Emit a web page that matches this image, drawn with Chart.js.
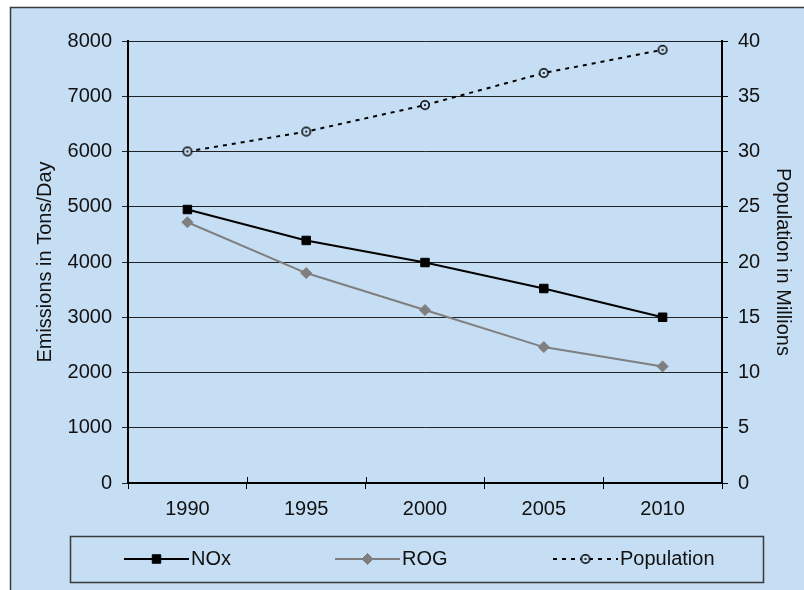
<!DOCTYPE html>
<html>
<head>
<meta charset="utf-8">
<script src="https://cdn.jsdelivr.net/npm/chart.js@4/dist/chart.umd.min.js"></script>
<style>
  html, body { margin: 0; padding: 0; background: #ffffff; }
  #wrap { width: 804px; height: 590px; position: relative; }
</style>
</head>
<body>
<div id="wrap"><canvas id="c" width="804" height="590"></canvas></div>
<script>
// Emissions (tons/day) and population (millions), 1990-2010
const years = ['1990', '1995', '2000', '2005', '2010'];
const noxTons = [4950, 4390, 3990, 3520, 3000];
const rogTons = [4720, 3800, 3130, 2460, 2110];
const populationMillions = [30.0, 31.8, 34.2, 37.1, 39.2];

const emissionTicks = { min: 0, max: 8000, step: 1000 };
const populationTicks = { min: 0, max: 40, step: 5 };

const PANEL = '#c6def3';
const INK = '#111111';
const FONT = { family: '"Liberation Sans", Arial, sans-serif', size: 20 };

// open circle with a centre dot, used for the population markers
function circleDotMarker() {
  const cv = document.createElement('canvas');
  cv.width = 12; cv.height = 12;
  const g = cv.getContext('2d');
  g.beginPath();
  g.arc(6, 6, 4.2, 0, Math.PI * 2);
  g.fillStyle = PANEL;
  g.fill();
  g.lineWidth = 1.5;
  g.strokeStyle = '#000';
  g.stroke();
  g.beginPath();
  g.arc(6, 6, 1.1, 0, Math.PI * 2);
  g.fillStyle = '#000';
  g.fill();
  return cv;
}
const popMarker = circleDotMarker();

// panel background and frame
const panelPlugin = {
  id: 'panel',
  beforeDraw(chart) {
    const ctx = chart.ctx;
    ctx.save();
    ctx.fillStyle = '#ffffff';
    ctx.fillRect(0, 0, chart.width, chart.height);
    ctx.fillStyle = PANEL;
    ctx.fillRect(10, 7, chart.width, chart.height);
    ctx.strokeStyle = '#3a3a3a';
    ctx.lineWidth = 1.5;
    ctx.strokeRect(10.5, 7.5, chart.width + 10, chart.height + 10);
    ctx.restore();
  }
};

// category tick marks that cross the bottom axis
const crossTicksPlugin = {
  id: 'crossTicks',
  afterDatasetsDraw(chart) {
    const xs = chart.scales.x;
    const ctx = chart.ctx;
    const n = xs.ticks.length;
    const pos = [xs.left];
    for (let i = 1; i < n; i++) {
      pos.push((xs.getPixelForValue(i - 1) + xs.getPixelForValue(i)) / 2);
    }
    pos.push(xs.right);
    ctx.save();
    ctx.strokeStyle = '#000';
    ctx.lineWidth = 1;
    pos.forEach(p => {
      const px = Math.round(p) + 0.5;
      ctx.beginPath();
      ctx.moveTo(px, xs.top - 6);
      ctx.lineTo(px, xs.top);
      ctx.stroke();
    });
    ctx.restore();
  }
};

// boxed legend under the axis, line + marker samples
const legendBoxPlugin = {
  id: 'legendBox',
  afterDraw(chart) {
    const ctx = chart.ctx;
    const box = { x: 70, y: 536, w: 693, h: 46 };
    const cy = box.y + box.h / 2;
    ctx.save();
    ctx.strokeStyle = '#3a3a3a';
    ctx.lineWidth = 1.5;
    ctx.strokeRect(box.x + 0.5, box.y + 0.5, box.w, box.h);

    const slots = [124, 335, 553];
    chart.data.datasets.forEach((ds, i) => {
      const x0 = slots[i], x1 = x0 + 65, xm = (x0 + x1) / 2;
      ctx.save();
      ctx.strokeStyle = ds.borderColor;
      ctx.lineWidth = ds.borderWidth;
      ctx.setLineDash(ds.borderDash || []);
      ctx.beginPath();
      ctx.moveTo(x0, cy);
      ctx.lineTo(x1, cy);
      ctx.stroke();
      ctx.setLineDash([]);
      if (ds.pointStyle instanceof HTMLCanvasElement) {
        ctx.drawImage(ds.pointStyle, xm - ds.pointStyle.width / 2, cy - ds.pointStyle.height / 2);
      } else {
        ctx.fillStyle = ds.pointBackgroundColor;
        ctx.strokeStyle = ds.pointBorderColor;
        ctx.lineWidth = ds.pointBorderWidth;
        Chart.helpers.drawPoint(ctx, {
          pointStyle: ds.pointStyle, radius: ds.pointRadius, borderWidth: ds.pointBorderWidth, rotation: 0
        }, xm, cy);
      }
      ctx.restore();
      ctx.fillStyle = INK;
      ctx.font = FONT.size + 'px ' + FONT.family;
      ctx.textBaseline = 'middle';
      ctx.textAlign = 'left';
      ctx.fillText(ds.label, x1 + 2, cy);
    });
    ctx.restore();
  }
};

const plainNumber = v => String(v);

new Chart(document.getElementById('c'), {
  type: 'line',
  data: {
    labels: years,
    datasets: [
      {
        label: 'NOx',
        data: noxTons,
        yAxisID: 'y',
        borderColor: '#000000',
        borderWidth: 2,
        pointStyle: 'rect',
        pointRadius: 6,
        pointBorderWidth: 1,
        pointBackgroundColor: '#000000',
        pointBorderColor: '#000000',
        tension: 0
      },
      {
        label: 'ROG',
        data: rogTons,
        yAxisID: 'y',
        borderColor: '#7f7f7f',
        borderWidth: 2,
        pointStyle: 'rectRot',
        pointRadius: 5.5,
        pointBorderWidth: 1,
        pointBackgroundColor: '#7f7f7f',
        pointBorderColor: '#7f7f7f',
        tension: 0
      },
      {
        label: 'Population',
        data: populationMillions,
        yAxisID: 'y1',
        borderColor: '#000000',
        borderWidth: 2,
        borderDash: [4, 5],
        pointStyle: popMarker,
        pointRadius: 5,
        tension: 0
      }
    ]
  },
  options: {
    responsive: false,
    animation: false,
    devicePixelRatio: 1,
    layout: { padding: { top: 41, bottom: 67, left: 0, right: 0 } },
    plugins: {
      legend: { display: false },
      tooltip: { enabled: false }
    },
    scales: {
      x: {
        type: 'category',
        offset: true,
        grid: { offset: true, drawOnChartArea: false, tickLength: 6, color: '#000', lineWidth: 1 },
        border: { color: '#000', width: 2 },
        ticks: { color: INK, font: FONT, padding: 8, maxRotation: 0 },
        afterFit(s) { s.height = 40; }
      },
      y: {
        position: 'left',
        min: emissionTicks.min,
        max: emissionTicks.max,
        ticks: { stepSize: emissionTicks.step, color: INK, font: FONT, padding: 10, callback: plainNumber },
        grid: { color: '#222', lineWidth: 1, tickLength: 6 },
        border: { color: '#000', width: 2 },
        title: {
          display: true, text: 'Emissions in Tons/Day', color: INK, font: FONT,
          padding: { top: 33, bottom: 0 }
        },
        afterFit(s) { s.width = 128; }
      },
      y1: {
        position: 'right',
        min: populationTicks.min,
        max: populationTicks.max,
        ticks: { stepSize: populationTicks.step, color: INK, font: FONT, padding: 10, callback: plainNumber },
        grid: { drawOnChartArea: false, color: '#000', lineWidth: 1, tickLength: 6 },
        border: { color: '#000', width: 2 },
        title: {
          display: true, text: 'Population in Millions', color: INK, font: FONT,
          padding: { top: 9, bottom: 0 }
        },
        afterFit(s) { s.width = 82; }
      }
    }
  },
  plugins: [panelPlugin, crossTicksPlugin, legendBoxPlugin]
});
</script>
</body>
</html>
